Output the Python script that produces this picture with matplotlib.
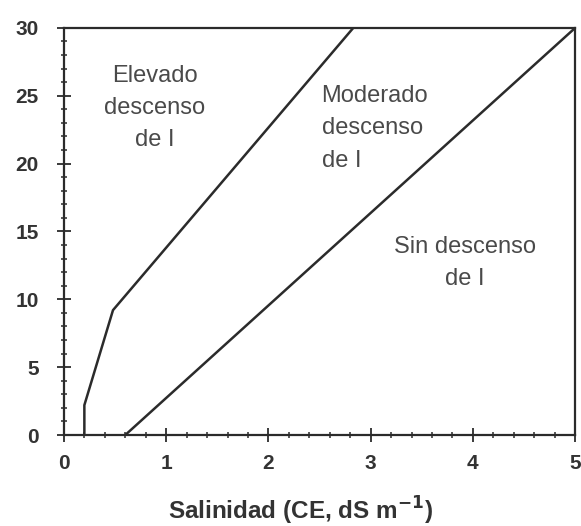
import numpy as np
import matplotlib.pyplot as plt
from matplotlib.ticker import MultipleLocator

# limites entre zonas (salinidad CE vs. valor en eje y)
elev_x = [0.2, 0.2, 0.48, 2.83]
elev_y = [0, 2.2, 9.2, 30]
mod_x = [0.6, 5.0]
mod_y = [0, 30]

zone_labels = ['Elevado\ndescenso\nde I', 'Moderado\ndescenso\nde I', 'Sin descenso\nde I']

plt.rcParams['font.family'] = ['Liberation Sans', 'DejaVu Sans']
dark = '#2b2b2b'

fig = plt.figure(figsize=(5.81, 5.26), dpi=100)
ax = fig.add_axes([0.110, 0.173, 0.880, 0.774])

ax.plot(elev_x, elev_y, color=dark, lw=1.8)
ax.plot(mod_x, mod_y, color=dark, lw=1.8)

# etiquetas de zona
txt_kw = dict(va='center', fontsize=17, color='#4a4a4a', linespacing=1.6)
ax.text(0.89, 24.1, zone_labels[0], ha='center', **txt_kw)
ax.text(2.52, 22.6, zone_labels[1], ha='left', **txt_kw)
ax.text(3.92, 12.7, zone_labels[2], ha='center', **txt_kw)

ax.set_xlim(0, 5)
ax.set_ylim(0, 30)
ax.xaxis.set_major_locator(MultipleLocator(1))
ax.xaxis.set_minor_locator(MultipleLocator(0.2))
ax.yaxis.set_major_locator(MultipleLocator(5))
ax.yaxis.set_minor_locator(MultipleLocator(1))
ax.tick_params(which='major', direction='inout', length=10, width=1.3, colors=dark,
               labelsize=15, pad=9)
ax.tick_params(which='minor', direction='inout', length=5, width=1.1, colors=dark)
ax.tick_params(axis='y', which='major', pad=13)
for lab in ax.get_xticklabels() + ax.get_yticklabels():
    lab.set_fontweight('bold')
    lab.set_color('#333333')

for s in ax.spines.values():
    s.set_color(dark)
    s.set_linewidth(1.6)

ax.set_xlabel('Salinidad (CE, dS m$^{\\mathbf{-1}}$)', fontsize=17.5, fontweight='bold',
              color='#333333')
ax.xaxis.set_label_coords(0.462, -0.147)

fig.savefig('out.png', dpi=100)
